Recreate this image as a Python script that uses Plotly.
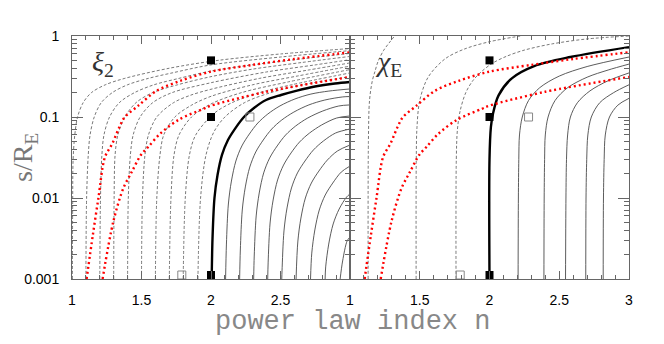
import plotly.graph_objects as go

# ---------------- data ----------------
# Left panel (xi_2): dashed contours, n0 = 1.0 ... 1.9
xi_dash_n = [
    [1.003, 1.005, 1.008, 1.02, 1.04, 1.08, 1.14, 1.24, 1.38, 1.7, 2.05, 2.5, 3.0],
    [1.1, 1.105, 1.117, 1.13, 1.16, 1.21, 1.29, 1.4, 1.55, 1.72, 2.0, 2.5, 3.0],
    [1.2, 1.205, 1.215, 1.23, 1.27, 1.34, 1.45, 1.59, 1.77, 2.0, 2.25, 2.6, 3.0],
    [1.3, 1.303, 1.31, 1.33, 1.38, 1.46, 1.58, 1.76, 2.0, 2.3, 2.65, 3.0],
    [1.4, 1.405, 1.42, 1.44, 1.49, 1.58, 1.72, 2.0, 2.4, 2.75, 3.0],
    [1.5, 1.507, 1.525, 1.55, 1.61, 1.73, 1.85, 2.0, 2.35, 2.7, 3.0],
    [1.6, 1.61, 1.633, 1.66, 1.74, 1.86, 2.0, 2.3, 2.62, 3.0],
    [1.7, 1.712, 1.734, 1.77, 1.86, 2.0, 2.22, 2.55, 3.0],
    [1.8, 1.815, 1.845, 1.89, 2.02, 2.15, 2.35, 2.58, 3.0],
    [1.906, 1.925, 1.964, 2.02, 2.1, 2.24, 2.43, 2.66, 3.0],
]
xi_dash_s = [
    [0.001, 0.01, 0.03, 0.06, 0.1, 0.15, 0.2, 0.25, 0.3, 0.4, 0.5, 0.6, 0.7],
    [0.001, 0.01, 0.034, 0.06, 0.1, 0.15, 0.2, 0.25, 0.3, 0.35, 0.44, 0.55, 0.66],
    [0.001, 0.01, 0.034, 0.06, 0.1, 0.15, 0.2, 0.25, 0.3, 0.37, 0.43, 0.51, 0.61],
    [0.001, 0.01, 0.034, 0.06, 0.1, 0.15, 0.2, 0.25, 0.315, 0.39, 0.47, 0.56],
    [0.001, 0.01, 0.034, 0.06, 0.1, 0.15, 0.2, 0.265, 0.36, 0.44, 0.51],
    [0.001, 0.01, 0.034, 0.06, 0.1, 0.15, 0.185, 0.22, 0.3, 0.38, 0.465],
    [0.001, 0.01, 0.034, 0.06, 0.1, 0.14, 0.18, 0.25, 0.32, 0.425],
    [0.001, 0.01, 0.034, 0.06, 0.1, 0.145, 0.2, 0.27, 0.385],
    [0.001, 0.01, 0.034, 0.06, 0.11, 0.15, 0.2, 0.25, 0.35],
    [0.001, 0.01, 0.034, 0.065, 0.1, 0.15, 0.2, 0.25, 0.315],
]
# Left panel: thick contour (n0 = 2)
xi_thick_n = [2.005, 2.011, 2.025, 2.047, 2.079, 2.122, 2.176, 2.237, 2.309, 2.396,
              2.504, 2.619, 2.748, 2.892, 3.0]
xi_thick_s = [0.001, 0.0032, 0.01, 0.0192, 0.034, 0.052, 0.073, 0.1, 0.129, 0.162,
              0.187, 0.212, 0.238, 0.259, 0.27]
# Left panel: thin solid contours, n0 = 2.1 ... 2.9
xi_solid_n = [
    [2.105, 2.111, 2.125, 2.147, 2.179, 2.222, 2.276, 2.337, 2.409, 2.496, 2.604, 2.719, 2.848, 3.0],
    [2.206, 2.211, 2.225, 2.247, 2.279, 2.322, 2.376, 2.437, 2.509, 2.596, 2.704, 2.819, 2.948, 3.0],
    [2.307, 2.311, 2.325, 2.347, 2.379, 2.422, 2.476, 2.537, 2.609, 2.696, 2.804, 2.919, 3.0],
    [2.408, 2.411, 2.425, 2.447, 2.479, 2.522, 2.576, 2.637, 2.709, 2.796, 2.904, 3.0],
    [2.509, 2.511, 2.525, 2.547, 2.579, 2.622, 2.676, 2.737, 2.809, 2.896, 3.0],
    [2.612, 2.625, 2.647, 2.679, 2.722, 2.776, 2.837, 2.909, 3.0],
    [2.716, 2.725, 2.747, 2.779, 2.822, 2.876, 2.937, 3.0],
    [2.821, 2.825, 2.847, 2.879, 2.922, 2.976, 3.0],
    [2.929, 2.947, 2.979, 3.0],
]
xi_solid_s = [
    [0.001, 0.0027, 0.00843, 0.0162, 0.0286, 0.0439, 0.0617, 0.0843, 0.109, 0.137, 0.167, 0.192, 0.209, 0.222],
    [0.001, 0.00228, 0.00711, 0.0137, 0.0241, 0.037, 0.052, 0.0711, 0.0918, 0.115, 0.141, 0.162, 0.177, 0.179],
    [0.001, 0.00192, 0.006, 0.01153, 0.0204, 0.0312, 0.0439, 0.06, 0.0774, 0.0972, 0.1186, 0.1367, 0.141],
    [0.001, 0.00158, 0.00491, 0.00945, 0.0167, 0.0255, 0.036, 0.0491, 0.0634, 0.0797, 0.0972, 0.103],
    [0.001, 0.00126, 0.00392, 0.00753, 0.0133, 0.0204, 0.0286, 0.0392, 0.0506, 0.0634, 0.0711],
    [0.001, 0.00294, 0.00566, 0.01, 0.0153, 0.0215, 0.0294, 0.038, 0.0451],
    [0.001, 0.00209, 0.00403, 0.00711, 0.0109, 0.0153, 0.0209, 0.0248],
    [0.001, 0.00141, 0.0027, 0.00478, 0.00731, 0.0103, 0.0112],
    [0.001, 0.00167, 0.00294, 0.0033],
]

# Right panel (chi_E): dashed contours
chi_dash_n = [
    [1.13, 1.132, 1.14, 1.16, 1.18, 1.2, 1.24, 1.28, 1.32],
    [1.474, 1.475, 1.48, 1.5, 1.56, 1.68, 1.82, 2.0, 2.22],
    [1.76, 1.762, 1.77, 1.79, 1.83, 1.88, 1.94, 2.02, 2.12, 2.25, 2.45, 2.7, 3.0],
]
chi_dash_s = [
    [0.001, 0.05, 0.16, 0.28, 0.37, 0.48, 0.66, 0.82, 1.0],
    [0.001, 0.03, 0.074, 0.16, 0.31, 0.52, 0.69, 0.85, 1.0],
    [0.001, 0.03, 0.07, 0.12, 0.2, 0.28, 0.36, 0.46, 0.56, 0.67, 0.8, 0.92, 1.0],
]
chi_thick_n = [2.0, 2.0, 2.01, 2.025, 2.065, 2.16, 2.32, 2.58, 3.0]
chi_thick_s = [0.001, 0.03, 0.075, 0.11, 0.185, 0.3, 0.425, 0.55, 0.73]
chi_solid_n = [
    [2.205, 2.207, 2.21, 2.215, 2.235, 2.28, 2.36, 2.5, 2.7, 3.0],
    [2.39, 2.392, 2.395, 2.40, 2.42, 2.47, 2.56, 2.7, 2.85, 3.0],
    [2.545, 2.548, 2.552, 2.56, 2.58, 2.63, 2.72, 2.85, 3.0],
    [2.69, 2.692, 2.697, 2.705, 2.73, 2.79, 2.89, 3.0],
    [2.815, 2.817, 2.822, 2.83, 2.86, 2.92, 3.0],
]
chi_solid_s = [
    [0.001, 0.01, 0.03, 0.06, 0.1, 0.16, 0.23, 0.32, 0.42, 0.55],
    [0.001, 0.01, 0.03, 0.06, 0.1, 0.16, 0.23, 0.31, 0.38, 0.45],
    [0.001, 0.01, 0.03, 0.06, 0.1, 0.15, 0.21, 0.28, 0.35],
    [0.001, 0.01, 0.03, 0.06, 0.1, 0.15, 0.2, 0.25],
    [0.001, 0.01, 0.03, 0.06, 0.1, 0.14, 0.17],
]

# Red dotted curves (same in both panels)
red1_n = [1.105, 1.15, 1.19, 1.237, 1.29, 1.345, 1.38, 1.477, 1.61, 1.78, 2.0, 2.3, 2.6, 3.0]
red1_s = [0.001, 0.0035, 0.01, 0.032, 0.047, 0.078, 0.1, 0.138, 0.211, 0.28, 0.363, 0.44, 0.52, 0.63]
red2_n = [1.22, 1.297, 1.37, 1.43, 1.496, 1.55, 1.633, 1.77, 1.945, 2.0, 2.4, 3.0]
red2_s = [0.001, 0.0051, 0.0133, 0.021, 0.034, 0.043, 0.062, 0.093, 0.126, 0.138, 0.205, 0.312]

# Markers
filled_n = [2.0, 2.0, 2.0]
filled_s = [0.5, 0.1, 0.00112]
open_n = [2.28, 1.79]
open_s = [0.1, 0.00112]

x_left_ticks = [1, 1.5, 2, 2.5]
x_left_text = ["1", "1.5", "2", "2.5"]
x_right_ticks = [1, 1.5, 2, 2.5, 3]
x_right_text = ["1", "1.5", "2", "2.5", "3"]
y_ticks = [0.001, 0.01, 0.1, 1]
y_text = ["0.001", "0.01", "0.1", "1"]

# ---------------- figure ----------------
fig = go.Figure()

DASH = "3px,2px"
GREY = "#4a4a4a"
DGREY = "#555555"


def add_line(n, s, xa, ya, color, width, dash=None):
    fig.add_trace(go.Scatter(
        x=n, y=s, mode="lines", xaxis=xa, yaxis=ya,
        line=dict(color=color, width=width, dash=dash, shape="spline", smoothing=0.9),
        showlegend=False, hoverinfo="skip"))


for xa, ya, dn, ds, sn, ss, tn, ts in [
        ("x", "y", xi_dash_n, xi_dash_s, xi_solid_n, xi_solid_s, xi_thick_n, xi_thick_s),
        ("x2", "y2", chi_dash_n, chi_dash_s, chi_solid_n, chi_solid_s, chi_thick_n, chi_thick_s)]:
    for n, s in zip(dn, ds):
        add_line(n, s, xa, ya, DGREY, 0.8, DASH)
    for n, s in zip(sn, ss):
        add_line(n, s, xa, ya, GREY, 0.9)
    add_line(tn, ts, xa, ya, "black", 2.4)
    add_line(red1_n, red1_s, xa, ya, "#ff0000", 2.4, "2px,3px")
    add_line(red2_n, red2_s, xa, ya, "#ff0000", 2.4, "2px,3px")
    fig.add_trace(go.Scatter(x=filled_n, y=filled_s, mode="markers", xaxis=xa, yaxis=ya,
                             marker=dict(symbol="square", size=8, color="black"),
                             cliponaxis=False, showlegend=False, hoverinfo="skip"))
    fig.add_trace(go.Scatter(x=open_n, y=open_s, mode="markers", xaxis=xa, yaxis=ya,
                             marker=dict(symbol="square-open", size=8, color="#888",
                                         line=dict(width=1, color="#888")),
                             cliponaxis=False, showlegend=False, hoverinfo="skip"))

minor_y = [m * 10 ** e for e in (-3, -2, -1) for m in range(2, 10)]
minor_x = [round(1 + 0.1 * i, 2) for i in range(21) if i % 5 != 0]

tickfont = dict(family="Liberation Sans, Arial", size=14, color="black")
common_x = dict(range=[1, 3], ticks="inside", ticklen=8, tickcolor="#666",
                showline=True, linecolor="#666", linewidth=1, mirror="allticks",
                showgrid=False, zeroline=False, tickfont=tickfont, ticklabelstandoff=8,
                minor=dict(tickvals=minor_x, ticks="inside", ticklen=4, tickcolor="#666", showgrid=False))
common_y = dict(type="log", range=[-3, 0], tickvals=y_ticks, ticks="inside", ticklen=11, tickcolor="#666",
                showline=True, linecolor="#666", linewidth=1, mirror="allticks",
                showgrid=False, zeroline=False, tickfont=tickfont,
                minor=dict(tickvals=minor_y, ticks="inside", ticklen=5, tickcolor="#666", showgrid=False))

split = 278 / 557
fig.update_layout(
    width=656, height=336,
    margin=dict(l=64, r=35, t=28, b=65),
    paper_bgcolor="white", plot_bgcolor="white",
    xaxis=dict(domain=[0, split], anchor="y", tickvals=x_left_ticks, ticktext=x_left_text, **common_x),
    xaxis2=dict(domain=[split, 1], anchor="y2", tickvals=x_right_ticks, ticktext=x_right_text, **common_x),
    yaxis=dict(domain=[0, 1], anchor="x", ticktext=y_text, ticklabelstandoff=9, **common_y),
    yaxis2=dict(domain=[0, 1], anchor="x2", matches="y", showticklabels=False, **common_y),
)

serif = "Liberation Serif, DejaVu Serif, serif"
mono = "Liberation Mono, DejaVu Sans Mono, monospace"
fig.add_annotation(text="<i>ξ</i><sub>2</sub>", xref="paper", yref="paper",
                   x=(90 - 72) / 557, y=(279 - 63) / 243, xanchor="left", yanchor="middle",
                   showarrow=False, font=dict(family=serif, size=28, color="#333"))
fig.add_annotation(text="<i>χ</i><sub>E</sub>", xref="paper", yref="paper",
                   x=(373 - 72) / 557, y=(279 - 63) / 243, xanchor="left", yanchor="middle",
                   showarrow=False, font=dict(family=serif, size=28, color="#333"))
fig.add_annotation(text="s/R<sub>E</sub>", xref="paper", yref="paper",
                   x=(24 - 72) / 557, y=(279 - 158) / 243, xanchor="center", yanchor="middle",
                   textangle=-90, showarrow=False, font=dict(family=serif, size=28, color="#777"))
fig.add_annotation(text="power law index n", xref="paper", yref="paper",
                   x=(352 - 72) / 557, y=(279 - 322) / 243, xanchor="center", yanchor="middle",
                   showarrow=False, font=dict(family=mono, size=27, color="#888"))

fig.write_html("out.html")
